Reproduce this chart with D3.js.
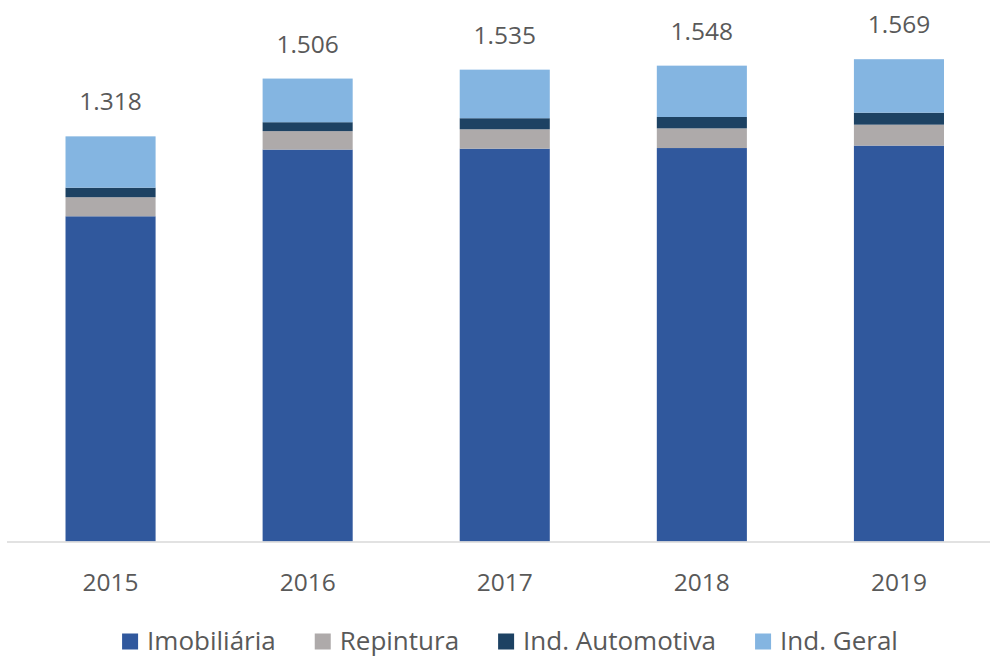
<!DOCTYPE html>
<html lang="pt">
<head>
<meta charset="utf-8">
<title>Volume por segmento</title>
<script src="https://cdn.jsdelivr.net/npm/d3@7/dist/d3.min.js"></script>
<style>
  body { margin: 0; background: #fff; }
  text { font-family: "Open Sans", "Noto Sans", sans-serif; fill: #595959; }
</style>
</head>
<body>
<div id="chart"></div>
<script>
// dados
var anos = ["2015", "2016", "2017", "2018", "2019"];
var series = ["Imobiliária", "Repintura", "Ind. Automotiva", "Ind. Geral"];
var imobiliaria = [1058, 1275, 1278, 1280, 1288];
var repintura = [62, 60, 63, 64, 68];
var automotiva = [31, 29, 36, 37, 39];
var geral = [167, 142, 158, 167, 174];
var totais = ["1.318", "1.506", "1.535", "1.548", "1.569"];

var cores = ["#30589d", "#aeaaaa", "#1d4263", "#84b5e1"];

var W = 990, H = 656,
    base = 541.5,
    topo = 59.2;

var rows = anos.map(function (a, i) {
    return {ano: a, "Imobiliária": imobiliaria[i], "Repintura": repintura[i],
            "Ind. Automotiva": automotiva[i], "Ind. Geral": geral[i]};
});

var svg = d3.select("#chart").append("svg")
    .attr("width", W).attr("height", H);

var x = d3.scaleBand().domain(anos).range([12, 997.5])
    .paddingInner(0.543).paddingOuter(0.2715);
var y = d3.scaleLinear().domain([0, 1569]).range([base, topo]);

var stack = d3.stack().keys(series)(rows);

svg.append("g").selectAll("g").data(stack).enter().append("g")
    .attr("fill", function (d, i) { return cores[i]; })
    .selectAll("rect").data(function (d) { return d; })
    .enter().append("rect")
    .attr("x", function (d) { return x(d.data.ano); })
    .attr("y", function (d) { return y(d[1]); })
    .attr("width", x.bandwidth())
    .attr("height", function (d) { return y(d[0]) - y(d[1]); });

// linha do eixo
svg.append("line")
    .attr("x1", 7).attr("x2", 990)
    .attr("y1", base + 0.5).attr("y2", base + 0.5)
    .attr("stroke", "#d9d9d9").attr("stroke-width", 1.5);

// rotulos de total
var soma = anos.map(function (a, i) { return imobiliaria[i] + repintura[i] + automotiva[i] + geral[i]; });
svg.append("g").selectAll("text").data(anos).enter().append("text")
    .attr("x", function (d) { return x(d) + x.bandwidth() / 2; })
    .attr("y", function (d, i) { return y(soma[i]) - 26; })
    .attr("text-anchor", "middle")
    .style("font-size", "24.5px")
    .text(function (d, i) { return totais[i]; });

// anos
svg.append("g").selectAll("text").data(anos).enter().append("text")
    .attr("x", function (d) { return x(d) + x.bandwidth() / 2; })
    .attr("y", 591)
    .attr("text-anchor", "middle")
    .style("font-size", "24.5px")
    .text(function (d) { return d; });

// legenda
var leg = svg.append("g");
var pos = 0;
series.forEach(function (s, i) {
    var g = leg.append("g").attr("transform", "translate(" + pos + ",0)");
    g.append("rect").attr("x", 0).attr("y", 633.5).attr("width", 16).attr("height", 16)
        .attr("fill", cores[i]);
    var t = g.append("text").attr("x", 25).attr("y", 649.5)
        .style("font-size", "26px").text(s);
    pos += 25 + t.node().getComputedTextLength() + 39;
});
var lw = pos - 39;
leg.attr("transform", "translate(" + (510 - lw / 2) + ",0)");
</script>
</body>
</html>
